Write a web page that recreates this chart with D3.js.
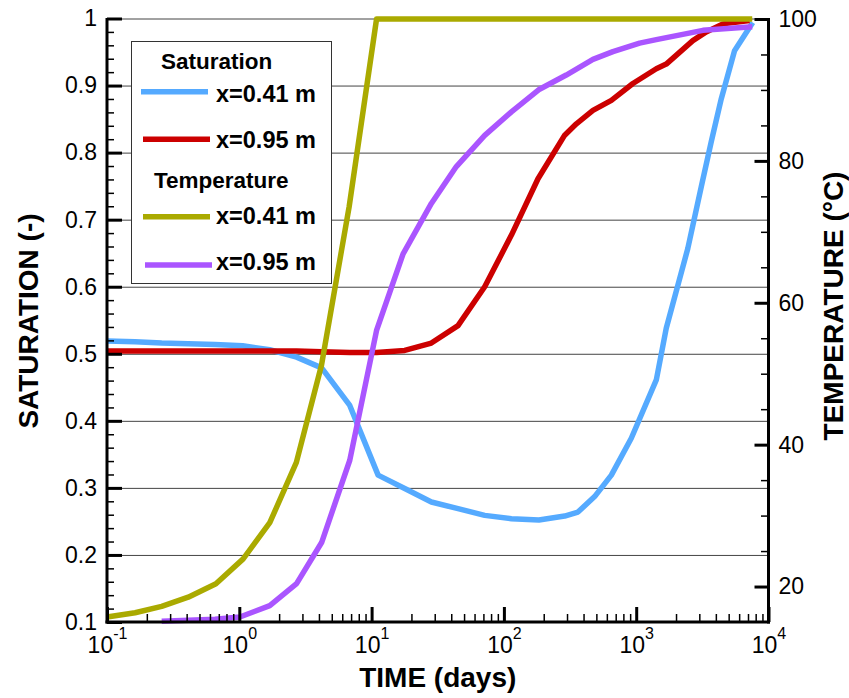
<!DOCTYPE html>
<html>
<head>
<meta charset="utf-8">
<script src="https://cdn.jsdelivr.net/npm/d3@7"></script>
<style>
  html, body { margin: 0; padding: 0; background: #fff; }
  svg { display: block; font-family: "Liberation Sans", Arial, sans-serif; }
</style>
</head>
<body>
<svg id="chart" width="849" height="698"></svg>
<script>
// ---- data ----
const timeSat41 = [0.1, 0.163, 0.259, 0.411, 0.655, 1.06, 1.70, 2.71, 4.19, 6.84, 11.2, 17.8, 28.3, 45, 71.6, 114, 184, 288, 363, 485, 649, 918, 1419, 1687, 2455, 3102, 3690, 4393, 5537, 7603];
const sat41     = [0.519, 0.518, 0.516, 0.515, 0.514, 0.512, 0.506, 0.495, 0.479, 0.423, 0.319, 0.299, 0.279, 0.269, 0.259, 0.254, 0.252, 0.258, 0.264, 0.287, 0.319, 0.374, 0.461, 0.538, 0.657, 0.749, 0.816, 0.880, 0.952, 0.994];

const timeSat95 = [0.1, 0.163, 0.259, 0.411, 0.655, 1.06, 1.70, 2.71, 4.19, 6.84, 10.9, 17.8, 28.3, 45, 71.6, 114, 181, 288, 353, 471, 649, 944, 1419, 1687, 2679, 3381, 4520, 7194];
const sat95     = [0.504, 0.504, 0.504, 0.504, 0.504, 0.504, 0.504, 0.504, 0.503, 0.502, 0.502, 0.505, 0.516, 0.542, 0.600, 0.677, 0.761, 0.826, 0.843, 0.863, 0.878, 0.903, 0.925, 0.932, 0.967, 0.980, 0.992, 0.997];

const timeTemp41 = [0.1, 0.163, 0.259, 0.411, 0.666, 1.07, 1.70, 2.70, 4.18, 6.76, 10.9, 100, 1000, 7534];
const temp41     = [15.7, 16.3, 17.2, 18.5, 20.4, 23.9, 29.0, 37.5, 51.2, 73.5, 100, 100, 100, 100];

const timeTemp95 = [0.259, 0.655, 1.01, 1.70, 2.71, 4.19, 6.84, 10.9, 17.3, 28.3, 43.7, 71.6, 114, 186, 296, 471, 667, 1061, 1419, 3194, 7534];
const temp95     = [15.1, 15.4, 15.7, 17.3, 20.4, 26.2, 37.8, 56.1, 66.9, 74.0, 79.2, 83.6, 86.9, 90.1, 92.1, 94.3, 95.4, 96.6, 97.1, 98.4, 98.9];

const timeTicks = [0.1, 1, 10, 100, 1000, 10000];
const satTicks  = [0.1, 0.2, 0.3, 0.4, 0.5, 0.6, 0.7, 0.8, 0.9, 1];
const satTickLabels = ["0.1", "0.2", "0.3", "0.4", "0.5", "0.6", "0.7", "0.8", "0.9", "1"];
const tempTicks = [20, 40, 60, 80, 100];

const legendTitles = ["Saturation", "Temperature"];
const legendLabels = ["x=0.41 m", "x=0.95 m", "x=0.41 m", "x=0.95 m"];
const seriesColors = ["#55aaff", "#cc0000", "#aaaa00", "#aa55ff"];

// ---- layout ----
const L = 107, R = 768.5, T = 18.5, B = 622;
const svg = d3.select("#chart");

const x = d3.scaleLog().domain([0.1, 10000]).range([L, R]);
const ySat = d3.scaleLinear().domain([0.1, 1]).range([B, T]);
const yTemp = d3.scaleLinear().domain([15, 100]).range([B, 19]);

// gridlines
const grid = svg.append("g").attr("transform", `translate(${L},0)`)
  .call(d3.axisLeft(ySat).tickValues(satTicks.slice(1)).tickSize(-(R - L)).tickFormat(""));
grid.select(".domain").remove();
grid.selectAll("line").attr("stroke", "#444").attr("stroke-width", 1);

// curves
const series = [
  {t: timeSat41, v: sat41, y: ySat},
  {t: timeSat95, v: sat95, y: ySat},
  {t: timeTemp41, v: temp41, y: yTemp},
  {t: timeTemp95, v: temp95, y: yTemp}
];
series.forEach((s, i) => {
  const pts = s.t.map((t, k) => [t, s.v[k]]);
  const line = d3.line().x(d => x(d[0])).y(d => s.y(d[1]));
  svg.append("path").datum(pts).attr("d", line)
    .attr("fill", "none").attr("stroke", seriesColors[i])
    .attr("stroke-width", 5.5).attr("stroke-linejoin", "round");
});

// minor tick values
const satMinor = d3.range(0.12, 1.0, 0.02).filter(v => Math.abs(v * 10 - Math.round(v * 10)) > 1e-6);
const tempMinor = d3.range(25, 100, 5).filter(v => v % 20 !== 0);
const timeMinor = [];
[0.1, 1, 10, 100, 1000].forEach(d => { for (let m = 2; m <= 9; m++) timeMinor.push(d * m); });

// left axis
const leftMinor = svg.append("g").attr("transform", `translate(${L},0)`)
  .call(d3.axisLeft(ySat).tickValues(satMinor).tickSizeInner(-7).tickSizeOuter(0).tickFormat(""));
leftMinor.select(".domain").remove();
leftMinor.selectAll("line").attr("stroke", "#000").attr("stroke-width", 1.5);

const left = svg.append("g").attr("transform", `translate(${L},0)`)
  .call(d3.axisLeft(ySat).tickValues(satTicks).tickSizeInner(-15).tickSizeOuter(0).tickPadding(10)
    .tickFormat((d, i) => satTickLabels[i]));
left.select(".domain").remove();
left.selectAll("line").attr("stroke", "#000").attr("stroke-width", 3);
left.selectAll("text").attr("font-size", 23).attr("fill", "#000").attr("font-family", "Liberation Sans, Arial, sans-serif");

// right axis
const rightMinor = svg.append("g").attr("transform", `translate(${R},0)`)
  .call(d3.axisRight(yTemp).tickValues(tempMinor).tickSizeInner(-7.5).tickSizeOuter(0).tickFormat(""));
rightMinor.select(".domain").remove();
rightMinor.selectAll("line").attr("stroke", "#000").attr("stroke-width", 1.5);

const right = svg.append("g").attr("transform", `translate(${R},0)`)
  .call(d3.axisRight(yTemp).tickValues(tempTicks).tickSizeInner(-14).tickSizeOuter(0).tickPadding(10)
    .tickFormat(d3.format("d")));
right.select(".domain").remove();
right.selectAll("line").attr("stroke", "#000").attr("stroke-width", 3);
right.selectAll("text").attr("font-size", 23).attr("fill", "#000").attr("font-family", "Liberation Sans, Arial, sans-serif");

// bottom axis
const bottomMinor = svg.append("g").attr("transform", `translate(0,${B})`)
  .call(d3.axisBottom(x).tickValues(timeMinor).tickSizeInner(-8).tickSizeOuter(0).tickFormat(""));
bottomMinor.select(".domain").remove();
bottomMinor.selectAll("line").attr("stroke", "#000").attr("stroke-width", 1.5);

const bottom = svg.append("g").attr("transform", `translate(0,${B})`)
  .call(d3.axisBottom(x).tickValues(timeTicks).tickSizeInner(-15).tickSizeOuter(0).tickFormat(""));
bottom.select(".domain").remove();
bottom.selectAll("line").attr("stroke", "#000").attr("stroke-width", 3);
bottom.selectAll(".tick").each(function(d) {
  const e = Math.round(Math.log10(d));
  const t = d3.select(this).select("text");
  t.text(null).attr("y", 31).attr("dy", null).attr("font-size", 23).attr("fill", "#000")
    .attr("text-anchor", "middle").attr("font-family", "Liberation Sans, Arial, sans-serif");
  t.append("tspan").text("10");
  t.append("tspan").attr("font-size", 16).attr("dy", -14).text(String(e));
});

// axis lines
svg.append("line").attr("x1", L).attr("x2", L).attr("y1", T - 0.5).attr("y2", B + 1.5)
  .attr("stroke", "#000").attr("stroke-width", 3);
svg.append("line").attr("x1", R).attr("x2", R).attr("y1", T - 0.5).attr("y2", B + 1.5)
  .attr("stroke", "#000").attr("stroke-width", 3);
svg.append("line").attr("x1", L - 1.5).attr("x2", R + 1.5).attr("y1", B).attr("y2", B)
  .attr("stroke", "#000").attr("stroke-width", 3);

// axis titles
svg.append("text").attr("x", (L + R) / 2).attr("y", 687).attr("text-anchor", "middle")
  .attr("font-size", 28).attr("font-weight", "bold").text("TIME (days)");
svg.append("text").attr("transform", "translate(38,321) rotate(-90)").attr("text-anchor", "middle")
  .attr("font-size", 28).attr("font-weight", "bold").text("SATURATION (-)");
svg.append("text").attr("transform", "translate(843,306) rotate(-90)").attr("text-anchor", "middle")
  .attr("font-size", 28).attr("font-weight", "bold").text("TEMPERATURE (°C)");

// legend
const lg = svg.append("g");
lg.append("rect").attr("x", 131.5).attr("y", 41.5).attr("width", 200).attr("height", 242)
  .attr("fill", "#fff").attr("stroke", "#333").attr("stroke-width", 1);
lg.append("text").attr("x", 161).attr("y", 69.3).attr("font-size", 22.5).attr("font-weight", "bold").text(legendTitles[0]);
lg.append("text").attr("x", 154).attr("y", 188.3).attr("font-size", 22.5).attr("font-weight", "bold").text(legendTitles[1]);
const lineY = [91.7, 139.3, 216.7, 265];
const textY = [101.7, 148.3, 224.3, 270];
const lineX0 = [141, 143, 143, 145];
legendLabels.forEach((lab, i) => {
  lg.append("line").attr("x1", lineX0[i]).attr("x2", lineX0[i] + 67).attr("y1", lineY[i]).attr("y2", lineY[i])
    .attr("stroke", seriesColors[i]).attr("stroke-width", 5.5);
  lg.append("text").attr("x", 216).attr("y", textY[i]).attr("font-size", 23.5).attr("font-weight", "bold").text(lab);
});
</script>
</body>
</html>
